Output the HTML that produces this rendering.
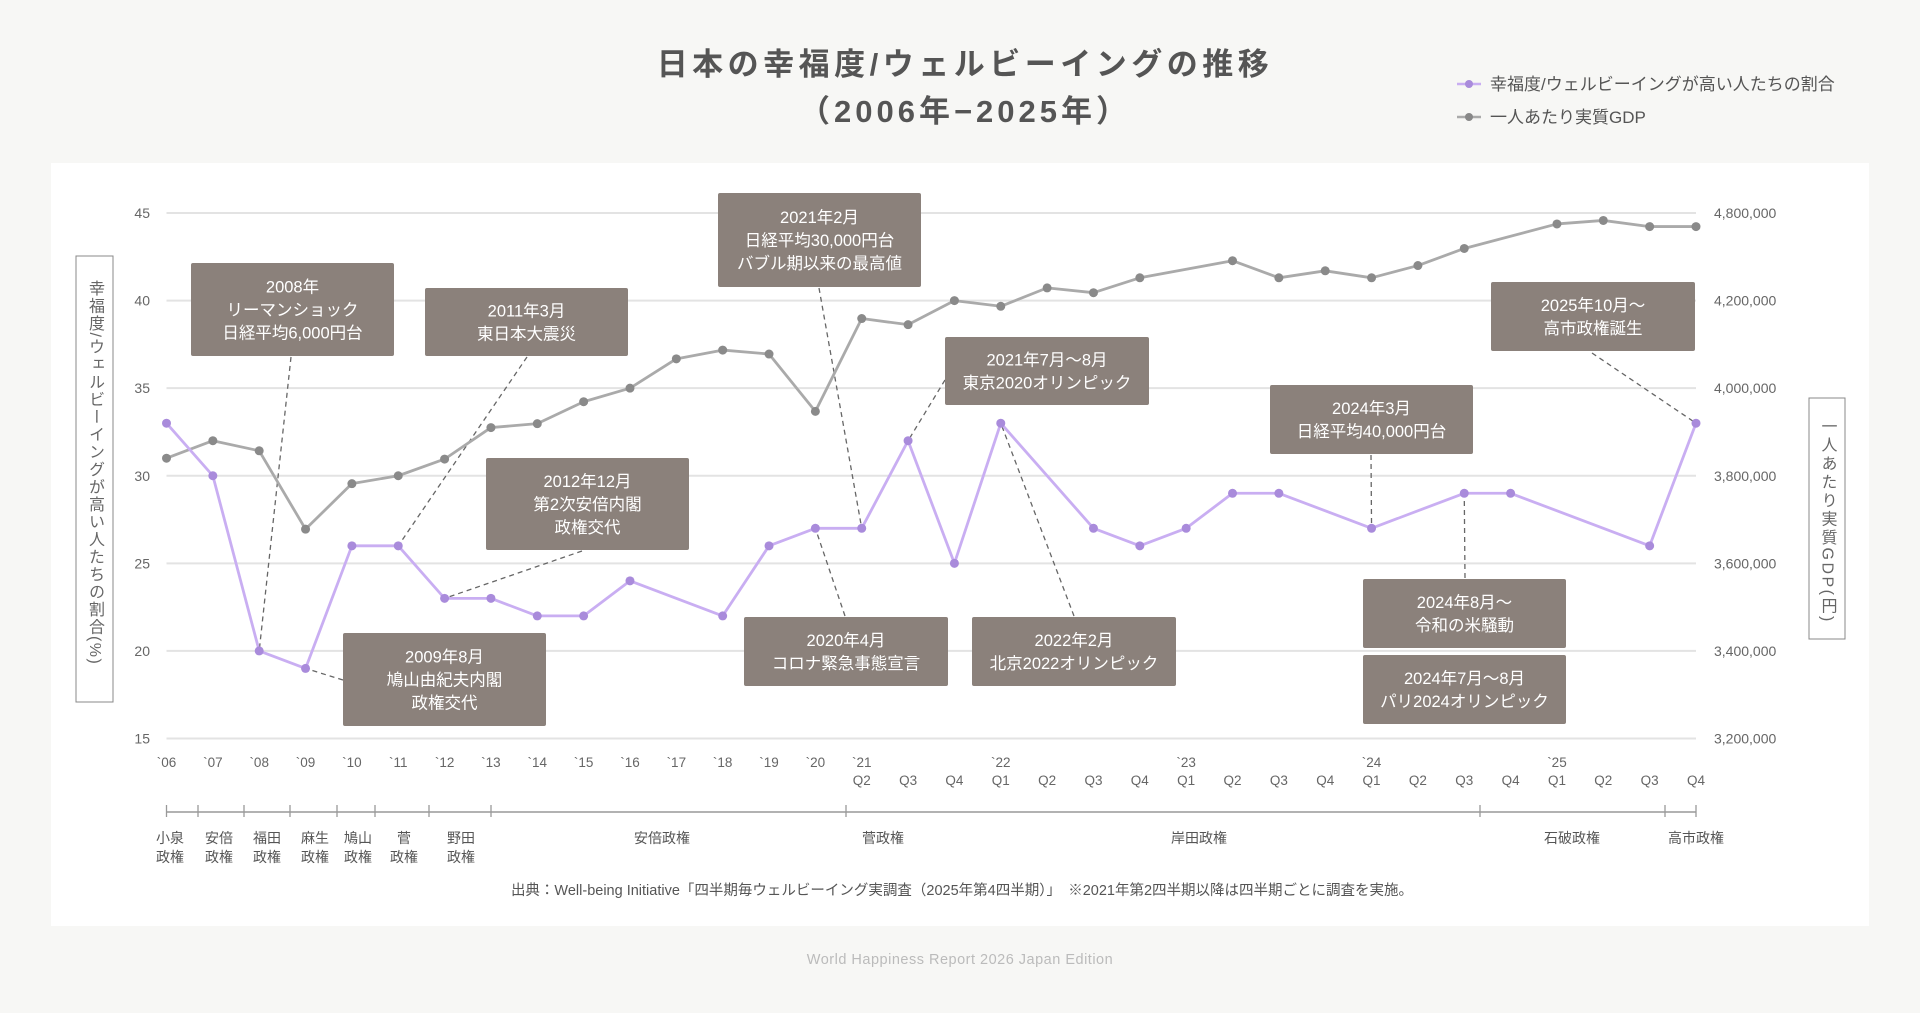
<!DOCTYPE html>
<html><head><meta charset="utf-8">
<style>
html,body{margin:0;padding:0;background:#f7f7f5;}
body{width:1920px;height:1008px;overflow:hidden;font-family:"Liberation Sans","Noto Sans CJK JP",sans-serif;}
svg text{font-family:"Liberation Sans","Noto Sans CJK JP",sans-serif;}
</style></head>
<body>
<svg id="chart" width="1920" height="1008" viewBox="0 0 1920 1008" xmlns="http://www.w3.org/2000/svg">
<rect x="0" y="0" width="1920" height="1008" fill="#f7f7f5"/>
<text x="965" y="75" text-anchor="middle" font-size="31" font-weight="bold" fill="#555" letter-spacing="4.5">日本の幸福度/ウェルビーイングの推移</text>
<text x="965" y="122" text-anchor="middle" font-size="31" font-weight="bold" fill="#555" letter-spacing="4">（2006年−2025年）</text>
<g>
 <g>
  <line x1="1457" y1="84" x2="1481" y2="84" stroke="#c9aef2" stroke-width="2.5"/><circle cx="1469" cy="84" r="4" fill="#a98bdb"/>
  <text x="1490" y="90" font-size="17" fill="#555">幸福度/ウェルビーイングが高い人たちの割合</text>
 </g>
 <g>
  <line x1="1457" y1="117" x2="1481" y2="117" stroke="#aaa" stroke-width="2.5"/><circle cx="1469" cy="117" r="4" fill="#888"/>
  <text x="1490" y="123" font-size="17" fill="#555">一人あたり実質GDP</text>
 </g>
</g>
<rect x="51" y="163" width="1818" height="763" fill="#ffffff"/>
<g id="grid"></g>
<g id="axes"></g>
<g id="anno-lines"></g>
<g id="series"></g>
<g id="boxes"></g>
<g id="gov"></g>
<rect x="76" y="256" width="37" height="446" fill="none" stroke="#888" stroke-width="1"/>
<text x="94.5" y="280" font-size="16" fill="#666" writing-mode="tb" letter-spacing="1.5">幸福度/ウェルビーイングが高い人たちの割合(%)</text>
<rect x="1809" y="398" width="36" height="241" fill="none" stroke="#888" stroke-width="1"/>
<text x="1827" y="418" font-size="16" fill="#666" writing-mode="tb" letter-spacing="2.5">一人あたり実質GDP(円)</text>
<text x="962" y="895" text-anchor="middle" font-size="14.5" fill="#555">出典：Well-being Initiative「四半期毎ウェルビーイング実調査（2025年第4四半期）」　※2021年第2四半期以降は四半期ごとに調査を実施。</text>
<text x="960" y="964" text-anchor="middle" font-size="14.5" fill="#bbb" letter-spacing="0.5">World Happiness Report 2026 Japan Edition</text>
</svg>
<script>
const yearLabels = ["`06","`07","`08","`09","`10","`11","`12","`13","`14","`15","`16","`17","`18","`19","`20","`21","","","`22","","","","`23","","","","`24","","","","`25","","",""];
const quarterLabels = ["","","","","","","","","","","","","","","","Q2","Q3","Q4","Q1","Q2","Q3","Q4","Q1","Q2","Q3","Q4","Q1","Q2","Q3","Q4","Q1","Q2","Q3","Q4"];
const wellbeing = [33,30,20,19,26,26,23,23,22,22,24,null,22,26,27,27,32,25,33,null,27,26,27,29,29,null,27,null,29,29,null,null,26,33];
const gdp = [3840000,3880000,3857000,3678000,3782000,3800000,3838000,3910000,3919000,3969000,4000000,4067000,4087000,4078000,3947000,4159000,4145000,4200000,4187000,4229000,4218000,4252000,null,4291000,4252000,4268000,4252000,4280000,4319000,null,4375000,4383000,4369000,4369000];
const leftTicks = [15,20,25,30,35,40,45];
const rightTickValues = [3200000,3400000,3600000,3800000,4000000,4200000,4400000];
const rightTickLabels = ["3,200,000","3,400,000","3,600,000","3,800,000","4,000,000","4,200,000","4,800,000"];
const govNames = [["小泉","政権"],["安倍","政権"],["福田","政権"],["麻生","政権"],["鳩山","政権"],["菅","政権"],["野田","政権"],["安倍政権"],["菅政権"],["岸田政権"],["石破政権"],["高市政権"]];

const NS="http://www.w3.org/2000/svg";
const X0=166.5,X1=1696,Y0=738.5,Y1=213;
const xs=i=>X0+i*(X1-X0)/(wellbeing.length-1);
const yL=v=>Y0-(v-15)/(45-15)*(Y0-Y1);
const yR=v=>Y0-(v-3200000)/(4400000-3200000)*(Y0-Y1);
function mk(tag,attrs,parent,txt){const e=document.createElementNS(NS,tag);for(const k in attrs)e.setAttribute(k,attrs[k]);if(txt!==undefined)e.textContent=txt;parent.appendChild(e);return e;}
const grid=document.getElementById('grid'),axes=document.getElementById('axes');
leftTicks.forEach((t,i)=>{
 const l=mk('line',{x1:X0,x2:X1,y1:yL(t),y2:yL(t),stroke:'#e3e3e3','stroke-width':2},grid);
 
 
 const tx=mk('text',{x:150,y:yL(t)+5,'text-anchor':'end','font-size':14,fill:'#666'},axes,t);
 
 
});
rightTickValues.forEach((v,i)=>{
 const tx=mk('text',{x:1714,y:yR(v)+5,'font-size':14,fill:'#666'},axes,rightTickLabels[i]);
 
 
});
yearLabels.forEach((s,i)=>{
 if(s){const t=mk('text',{x:xs(i),y:767,'text-anchor':'middle','font-size':13.5,fill:'#666'},axes,s);
 
 }
 if(quarterLabels[i]){const q=mk('text',{x:xs(i),y:785,'text-anchor':'middle','font-size':13.5,fill:'#666'},axes,quarterLabels[i]);
 
 }
});
const series=document.getElementById('series');
function draw(vals,yf,lc,dc,name){
 let pts=[];vals.forEach((v,i)=>{if(v!==null)pts.push([xs(i),yf(v)]);});
 const p=mk('polyline',{points:pts.map(p=>p.join(',')).join(' '),fill:'none',stroke:lc,'stroke-width':2.8,'stroke-linejoin':'round'},series);
 
 
 pts.forEach(q=>{const c=mk('circle',{cx:q[0],cy:q[1],r:4.5,fill:dc},series);
 
 });
}
draw(gdp,yR,'#aaaaaa','#8a8a8a','gdp');
draw(wellbeing,yL,'#c9aef2','#a98bdb','wellbeing');
const annos=[
 {b:[191,263,203,93],t:["2008年","リーマンショック","日経平均6,000円台"],a:[291,357],i:2,n:'anno-lehman'},
 {b:[425,288,203,68],t:["2011年3月","東日本大震災"],a:[527,357],i:5,n:'anno-earthquake'},
 {b:[718,193,203,94],t:["2021年2月","日経平均30,000円台","バブル期以来の最高値"],a:[819,288],i:15,n:'anno-nikkei-30000'},
 {b:[486,458,203,92],t:["2012年12月","第2次安倍内閣","政権交代"],a:[582,551],i:6,n:'anno-abe-cabinet'},
 {b:[343,633,203,93],t:["2009年8月","鳩山由紀夫内閣","政権交代"],a:[343,680],i:3,n:'anno-hatoyama'},
 {b:[744,617,204,69],t:["2020年4月","コロナ緊急事態宣言"],a:[845,616],i:14,n:'anno-covid'},
 {b:[945,337,204,68],t:["2021年7月～8月","東京2020オリンピック"],a:[945,380],i:16,n:'anno-tokyo-olympics'},
 {b:[972,617,204,69],t:["2022年2月","北京2022オリンピック"],a:[1074,616],i:18,n:'anno-beijing-olympics'},
 {b:[1270,385,203,69],t:["2024年3月","日経平均40,000円台"],a:[1371,455],i:26,n:'anno-nikkei-40000'},
 {b:[1363,579,203,69],t:["2024年8月～","令和の米騒動"],a:[1465,578],i:28,n:'anno-rice-crisis'},
 {b:[1363,655,203,69],t:["2024年7月～8月","パリ2024オリンピック"],a:null,i:null,n:'anno-paris-olympics'},
 {b:[1491,282,204,69],t:["2025年10月～","高市政権誕生"],a:[1592,353],i:33,n:'anno-takaichi'}
];
const al=document.getElementById('anno-lines'),bx=document.getElementById('boxes');
annos.forEach(o=>{
 if(o.a){const l=mk('line',{x1:o.a[0],y1:o.a[1],x2:xs(o.i),y2:yL(wellbeing[o.i]),stroke:'#666','stroke-width':1.3,'stroke-dasharray':'5,4'},al);
 
 }
 const g=mk('g',{},bx);
 
 
 const [x,y,w,h]=o.b;
 mk('rect',{x:x,y:y,width:w,height:h,rx:2,fill:'#8b817b'},g);
 const lh=23,n=o.t.length,cy=y+h/2-(n-1)*lh/2;
 o.t.forEach((s,k)=>mk('text',{x:x+w/2,y:cy+k*lh+6,'text-anchor':'middle','font-size':16.5,fill:'#fff'},g,s));
});
const gov=document.getElementById('gov');
const gl=mk('line',{x1:X0,x2:X1,y1:812,y2:812,stroke:'#999','stroke-width':1.5},gov);


const govTicks=[166.5,198,244,290,337,375,429,491,846,1480,1665,1696];
govTicks.forEach(x=>mk('line',{x1:x,x2:x,y1:805,y2:817,stroke:'#999','stroke-width':1.3},gov));
const govCenters=[170,219,267,315,358,404,461,662,883,1199,1572,1696];
govNames.forEach((nm,i)=>{
 const g=mk('g',{},gov);
 
 
 nm.forEach((s,k)=>mk('text',{x:govCenters[i],y:843+k*19,'text-anchor':'middle','font-size':14,fill:'#555'},g,s));
});
</script>
</body></html>
